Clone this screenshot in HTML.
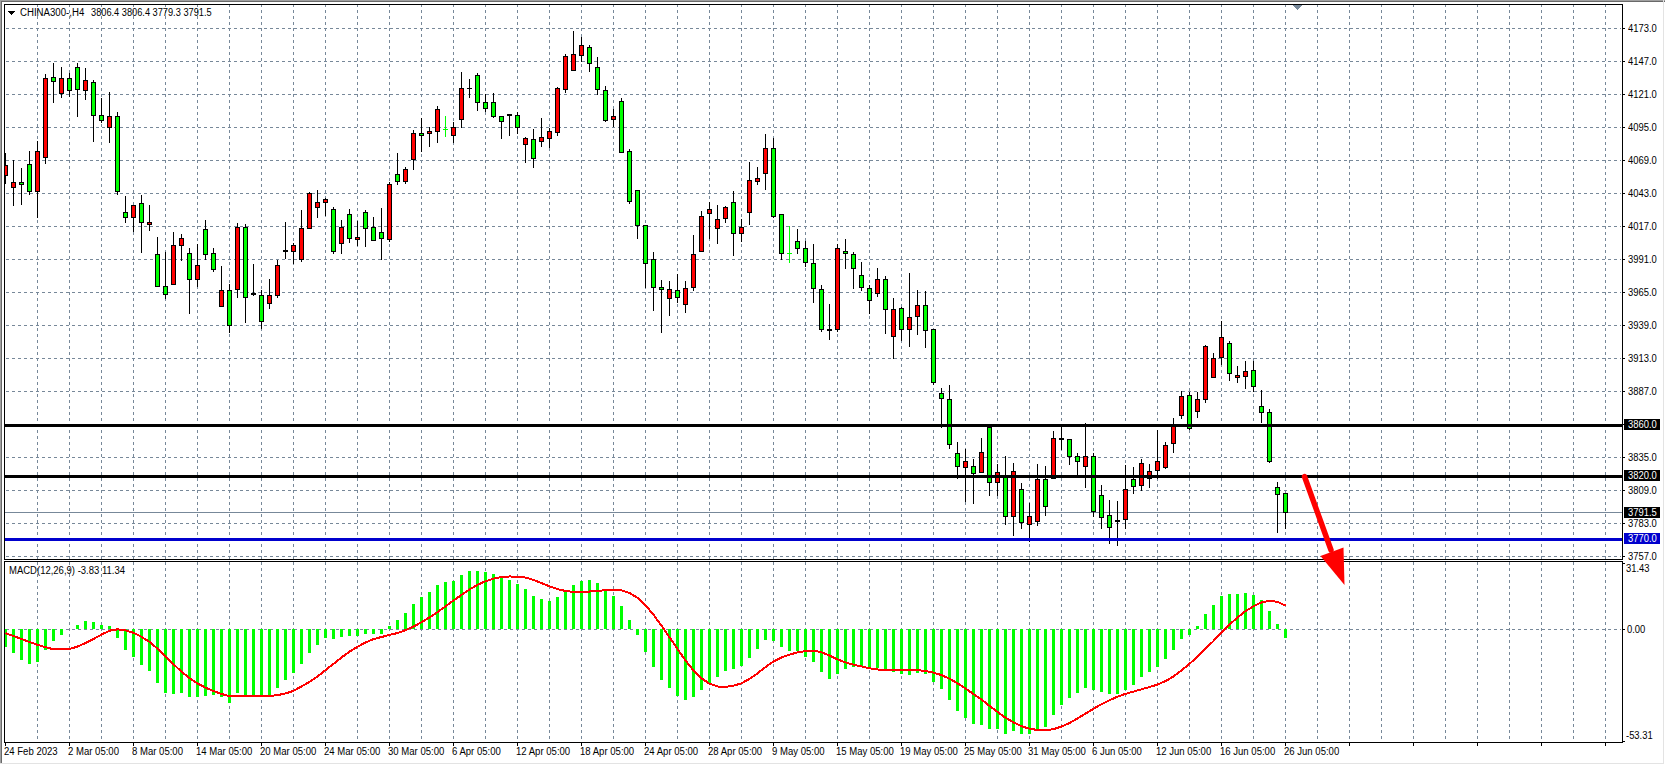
<!DOCTYPE html>
<html><head><meta charset="utf-8"><style>
html,body{margin:0;padding:0;background:#fff;width:1665px;height:765px;overflow:hidden}
svg{position:absolute;left:0;top:0}
.t{position:absolute;transform-origin:0 0;font-family:"Liberation Sans",sans-serif;line-height:12px;white-space:pre}
</style></head><body>
<svg width="1665" height="765" viewBox="0 0 1665 765" shape-rendering="crispEdges">
<rect x="0" y="0" width="1665" height="1" fill="#a0a0a0"/>
<rect x="0" y="1" width="1665" height="1" fill="#696969"/>
<rect x="0" y="0" width="1" height="763" fill="#a0a0a0"/>
<rect x="1" y="1" width="1" height="762" fill="#696969"/>
<rect x="0" y="763" width="1664" height="1" fill="#e3e3e3"/>
<rect x="1663" y="0" width="1" height="764" fill="#e3e3e3"/>
<path d="M37.5 4V559M69.5 4V559M101.5 4V559M133.5 4V559M165.5 4V559M197.5 4V559M229.5 4V559M261.5 4V559M293.5 4V559M325.5 4V559M357.5 4V559M389.5 4V559M421.5 4V559M453.5 4V559M485.5 4V559M517.5 4V559M549.5 4V559M581.5 4V559M613.5 4V559M645.5 4V559M677.5 4V559M709.5 4V559M741.5 4V559M773.5 4V559M805.5 4V559M837.5 4V559M869.5 4V559M901.5 4V559M933.5 4V559M965.5 4V559M997.5 4V559M1029.5 4V559M1061.5 4V559M1093.5 4V559M1125.5 4V559M1157.5 4V559M1189.5 4V559M1221.5 4V559M1253.5 4V559M1285.5 4V559M1317.5 4V559M1349.5 4V559M1381.5 4V559M1413.5 4V559M1445.5 4V559M1477.5 4V559M1509.5 4V559M1541.5 4V559M1573.5 4V559M1605.5 4V559" stroke="#778899" stroke-width="1" stroke-dasharray="3 3" fill="none"/>
<path d="M6 28.5H1621M6 61.5H1621M6 94.5H1621M6 127.5H1621M6 160.5H1621M6 193.5H1621M6 226.5H1621M6 259.5H1621M6 292.5H1621M6 325.5H1621M6 358.5H1621M6 391.5H1621M6 424.5H1621M6 457.5H1621M6 490.5H1621M6 523.5H1621M6 556.5H1621" stroke="#778899" stroke-width="1" stroke-dasharray="3 3" fill="none"/>
<path d="M37.5 562V742M69.5 562V742M101.5 562V742M133.5 562V742M165.5 562V742M197.5 562V742M229.5 562V742M261.5 562V742M293.5 562V742M325.5 562V742M357.5 562V742M389.5 562V742M421.5 562V742M453.5 562V742M485.5 562V742M517.5 562V742M549.5 562V742M581.5 562V742M613.5 562V742M645.5 562V742M677.5 562V742M709.5 562V742M741.5 562V742M773.5 562V742M805.5 562V742M837.5 562V742M869.5 562V742M901.5 562V742M933.5 562V742M965.5 562V742M997.5 562V742M1029.5 562V742M1061.5 562V742M1093.5 562V742M1125.5 562V742M1157.5 562V742M1189.5 562V742M1221.5 562V742M1253.5 562V742M1285.5 562V742M1317.5 562V742M1349.5 562V742M1381.5 562V742M1413.5 562V742M1445.5 562V742M1477.5 562V742M1509.5 562V742M1541.5 562V742M1573.5 562V742M1605.5 562V742" stroke="#778899" stroke-width="1" stroke-dasharray="3 3" fill="none"/>
<path d="M6 629.5H1621" stroke="#778899" stroke-width="1" stroke-dasharray="3 3" fill="none"/>
<rect x="5" y="512" width="1617" height="1" fill="#778899"/>
<clipPath id="cp"><rect x="5" y="5" width="1617" height="554"/></clipPath><g clip-path="url(#cp)">
<path d="M5 153h1v31h-1zM3 165h5v11h-5zM13 160h1v46h-1zM11 182h5v6h-5zM21 168h1v37h-1zM19 182h5v3h-5zM29 151h1v44h-1zM27 164h5v28h-5zM37 141h1v77h-1zM35 151h5v41h-5zM45 74h1v90h-1zM43 78h5v80h-5zM53 63h1v40h-1zM51 77h5v5h-5zM61 67h1v31h-1zM59 78h5v16h-5zM69 73h1v24h-1zM67 78h5v13h-5zM77 63h1v54h-1zM75 67h5v23h-5zM85 68h1v32h-1zM83 80h5v11h-5zM93 80h1v62h-1zM91 82h5v34h-5zM101 98h1v25h-1zM99 115h5v6h-5zM109 92h1v51h-1zM107 116h5v12h-5zM117 112h1v83h-1zM115 116h5v76h-5zM125 196h1v27h-1zM123 212h5v6h-5zM133 205h1v27h-1zM131 205h5v13h-5zM141 195h1v58h-1zM139 203h5v20h-5zM149 205h1v26h-1zM147 222h5v3h-5zM157 237h1v50h-1zM155 254h5v33h-5zM165 252h1v47h-1zM163 286h5v9h-5zM173 232h1v53h-1zM171 245h5v40h-5zM181 234h1v27h-1zM179 238h5v8h-5zM189 248h1v66h-1zM187 253h5v27h-5zM197 244h1v43h-1zM195 265h5v15h-5zM205 220h1v40h-1zM203 229h5v26h-5zM213 248h1v24h-1zM211 253h5v17h-5zM221 266h1v41h-1zM219 290h5v17h-5zM229 284h1v49h-1zM227 290h5v36h-5zM237 223h1v75h-1zM235 227h5v63h-5zM245 224h1v99h-1zM243 227h5v71h-5zM253 264h1v32h-1zM251 293h5v2h-5zM261 290h1v39h-1zM259 295h5v27h-5zM269 279h1v30h-1zM267 295h5v9h-5zM277 260h1v38h-1zM275 265h5v31h-5zM285 222h1v37h-1zM283 250h5v2h-5zM293 243h1v21h-1zM291 245h5v7h-5zM301 210h1v52h-1zM299 228h5v32h-5zM309 192h1v37h-1zM307 193h5v36h-5zM317 190h1v28h-1zM315 202h5v6h-5zM325 198h1v18h-1zM323 199h5v4h-5zM333 207h1v47h-1zM331 209h5v43h-5zM341 220h1v34h-1zM339 227h5v17h-5zM349 209h1v34h-1zM347 214h5v25h-5zM357 221h1v25h-1zM355 237h5v3h-5zM365 210h1v37h-1zM363 212h5v17h-5zM373 217h1v24h-1zM371 227h5v14h-5zM381 208h1v52h-1zM379 232h5v7h-5zM389 182h1v60h-1zM387 184h5v56h-5zM397 153h1v32h-1zM395 174h5v8h-5zM405 167h1v17h-1zM403 169h5v13h-5zM413 130h1v40h-1zM411 133h5v27h-5zM421 118h1v34h-1zM419 133h5v3h-5zM429 127h1v20h-1zM427 131h5v3h-5zM437 106h1v37h-1zM435 109h5v23h-5zM453 122h1v21h-1zM451 127h5v9h-5zM461 72h1v56h-1zM459 88h5v32h-5zM469 79h1v19h-1zM467 88h5v1h-5zM477 73h1v38h-1zM475 75h5v28h-5zM485 94h1v18h-1zM483 102h5v7h-5zM493 93h1v25h-1zM491 102h5v15h-5zM501 116h1v23h-1zM499 116h5v6h-5zM509 114h1v22h-1zM507 114h5v2h-5zM517 112h1v22h-1zM515 115h5v13h-5zM525 137h1v26h-1zM523 138h5v7h-5zM533 129h1v39h-1zM531 139h5v20h-5zM541 118h1v29h-1zM539 137h5v5h-5zM549 128h1v20h-1zM547 131h5v8h-5zM557 87h1v49h-1zM555 88h5v45h-5zM565 54h1v39h-1zM563 56h5v34h-5zM573 31h1v40h-1zM571 54h5v17h-5zM581 37h1v25h-1zM579 45h5v11h-5zM589 45h1v27h-1zM587 47h5v17h-5zM597 57h1v38h-1zM595 67h5v23h-5zM605 86h1v36h-1zM603 90h5v31h-5zM613 109h1v18h-1zM611 116h5v4h-5zM621 98h1v55h-1zM619 101h5v52h-5zM629 149h1v55h-1zM627 151h5v51h-5zM637 190h1v49h-1zM635 190h5v36h-5zM645 225h1v63h-1zM643 225h5v39h-5zM653 252h1v59h-1zM651 259h5v29h-5zM661 280h1v53h-1zM659 287h5v3h-5zM669 281h1v35h-1zM667 289h5v10h-5zM677 274h1v29h-1zM675 290h5v8h-5zM685 281h1v32h-1zM683 288h5v17h-5zM693 235h1v56h-1zM691 254h5v34h-5zM701 211h1v41h-1zM699 216h5v36h-5zM709 202h1v37h-1zM707 209h5v5h-5zM717 205h1v39h-1zM715 219h5v10h-5zM725 206h1v17h-1zM723 207h5v12h-5zM733 191h1v65h-1zM731 202h5v32h-5zM741 219h1v23h-1zM739 227h5v7h-5zM749 162h1v63h-1zM747 180h5v33h-5zM757 167h1v18h-1zM755 178h5v4h-5zM765 134h1v56h-1zM763 148h5v26h-5zM773 138h1v80h-1zM771 148h5v69h-5zM781 214h1v46h-1zM779 214h5v40h-5zM797 229h1v25h-1zM795 241h5v8h-5zM805 241h1v26h-1zM803 248h5v15h-5zM813 244h1v59h-1zM811 263h5v26h-5zM821 285h1v47h-1zM819 289h5v41h-5zM829 304h1v36h-1zM827 329h5v2h-5zM837 244h1v88h-1zM835 248h5v82h-5zM845 239h1v30h-1zM843 251h5v3h-5zM853 252h1v37h-1zM851 254h5v15h-5zM861 262h1v29h-1zM859 275h5v13h-5zM869 285h1v29h-1zM867 288h5v13h-5zM877 268h1v29h-1zM875 279h5v15h-5zM885 276h1v58h-1zM883 279h5v31h-5zM893 298h1v61h-1zM891 309h5v28h-5zM901 307h1v34h-1zM899 308h5v22h-5zM909 273h1v74h-1zM907 317h5v13h-5zM917 290h1v45h-1zM915 305h5v12h-5zM925 291h1v57h-1zM923 305h5v26h-5zM933 329h1v56h-1zM931 329h5v54h-5zM941 388h1v40h-1zM939 393h5v6h-5zM949 385h1v64h-1zM947 399h5v46h-5zM957 442h1v37h-1zM955 453h5v14h-5zM965 449h1v53h-1zM963 461h5v7h-5zM973 459h1v45h-1zM971 466h5v8h-5zM981 438h1v35h-1zM979 452h5v21h-5zM989 426h1v70h-1zM987 427h5v56h-5zM997 464h1v32h-1zM995 472h5v11h-5zM1005 456h1v69h-1zM1003 477h5v40h-5zM1013 463h1v73h-1zM1011 471h5v46h-5zM1021 483h1v46h-1zM1019 489h5v34h-5zM1029 503h1v39h-1zM1027 516h5v9h-5zM1037 464h1v62h-1zM1035 479h5v43h-5zM1045 466h1v50h-1zM1043 479h5v28h-5zM1053 431h1v48h-1zM1051 438h5v41h-5zM1061 427h1v23h-1zM1059 438h5v2h-5zM1069 439h1v26h-1zM1067 439h5v18h-5zM1077 453h1v23h-1zM1075 456h5v6h-5zM1085 423h1v65h-1zM1083 456h5v11h-5zM1093 453h1v64h-1zM1091 456h5v56h-5zM1101 485h1v44h-1zM1099 495h5v23h-5zM1109 500h1v44h-1zM1107 515h5v13h-5zM1117 501h1v45h-1zM1115 520h5v2h-5zM1125 465h1v64h-1zM1123 489h5v31h-5zM1133 467h1v27h-1zM1131 479h5v8h-5zM1141 459h1v32h-1zM1139 463h5v23h-5zM1149 464h1v24h-1zM1147 471h5v8h-5zM1157 430h1v49h-1zM1155 461h5v10h-5zM1165 442h1v27h-1zM1163 445h5v23h-5zM1173 418h1v35h-1zM1171 426h5v18h-5zM1181 391h1v28h-1zM1179 396h5v20h-5zM1189 392h1v38h-1zM1187 395h5v34h-5zM1197 392h1v26h-1zM1195 399h5v13h-5zM1205 345h1v58h-1zM1203 346h5v54h-5zM1213 353h1v25h-1zM1211 358h5v20h-5zM1221 321h1v44h-1zM1219 337h5v21h-5zM1229 341h1v40h-1zM1227 343h5v31h-5zM1237 366h1v17h-1zM1235 375h5v3h-5zM1245 361h1v28h-1zM1243 371h5v6h-5zM1253 361h1v31h-1zM1251 370h5v17h-5zM1261 390h1v33h-1zM1259 406h5v7h-5zM1269 409h1v54h-1zM1267 412h5v50h-5zM1277 482h1v51h-1zM1275 487h5v8h-5zM1285 493h1v36h-1zM1283 493h5v20h-5z" fill="#000"/>
<path d="M4 166h3v9h-3zM12 183h3v4h-3zM36 152h3v39h-3zM44 79h3v78h-3zM60 79h3v14h-3zM84 81h3v9h-3zM108 117h3v10h-3zM132 206h3v11h-3zM148 223h3v1h-3zM172 246h3v38h-3zM180 239h3v6h-3zM196 266h3v13h-3zM220 291h3v15h-3zM236 228h3v61h-3zM268 296h3v7h-3zM276 266h3v29h-3zM292 246h3v5h-3zM300 229h3v30h-3zM308 194h3v34h-3zM316 203h3v4h-3zM324 200h3v2h-3zM340 228h3v15h-3zM356 238h3v1h-3zM388 185h3v54h-3zM404 170h3v11h-3zM412 134h3v25h-3zM428 132h3v1h-3zM436 110h3v21h-3zM452 128h3v7h-3zM460 89h3v30h-3zM524 139h3v5h-3zM540 138h3v3h-3zM548 132h3v6h-3zM556 89h3v43h-3zM564 57h3v32h-3zM572 55h3v15h-3zM580 46h3v9h-3zM612 117h3v2h-3zM668 290h3v8h-3zM684 289h3v15h-3zM692 255h3v32h-3zM700 217h3v34h-3zM708 210h3v3h-3zM716 220h3v8h-3zM724 208h3v10h-3zM740 228h3v5h-3zM748 181h3v31h-3zM756 179h3v2h-3zM764 149h3v24h-3zM836 249h3v80h-3zM876 280h3v13h-3zM892 310h3v26h-3zM908 318h3v11h-3zM916 306h3v10h-3zM964 462h3v5h-3zM980 453h3v19h-3zM996 473h3v9h-3zM1012 472h3v44h-3zM1028 517h3v7h-3zM1036 480h3v41h-3zM1052 439h3v39h-3zM1084 457h3v9h-3zM1124 490h3v29h-3zM1140 464h3v21h-3zM1148 472h3v6h-3zM1156 462h3v8h-3zM1164 446h3v21h-3zM1172 427h3v16h-3zM1180 397h3v18h-3zM1196 400h3v11h-3zM1204 347h3v52h-3zM1212 359h3v18h-3zM1220 338h3v19h-3zM1236 376h3v1h-3zM1244 372h3v4h-3z" fill="#ff0000"/>
<path d="M20 183h3v1h-3zM28 165h3v26h-3zM52 78h3v3h-3zM68 79h3v11h-3zM76 68h3v21h-3zM92 83h3v32h-3zM100 116h3v4h-3zM116 117h3v74h-3zM124 213h3v4h-3zM140 204h3v18h-3zM156 255h3v31h-3zM164 287h3v7h-3zM188 254h3v25h-3zM204 230h3v24h-3zM212 254h3v15h-3zM228 291h3v34h-3zM244 228h3v69h-3zM260 296h3v25h-3zM332 210h3v41h-3zM348 215h3v23h-3zM364 213h3v15h-3zM372 228h3v12h-3zM380 233h3v5h-3zM396 175h3v6h-3zM420 134h3v1h-3zM445 116h1v21h-1zM443 129h5v1h-5zM476 76h3v26h-3zM484 103h3v5h-3zM492 103h3v13h-3zM500 117h3v4h-3zM516 116h3v11h-3zM532 140h3v18h-3zM588 48h3v15h-3zM596 68h3v21h-3zM604 91h3v29h-3zM620 102h3v50h-3zM628 152h3v49h-3zM636 191h3v34h-3zM644 226h3v37h-3zM652 260h3v27h-3zM660 288h3v1h-3zM676 291h3v6h-3zM732 203h3v30h-3zM772 149h3v67h-3zM780 215h3v38h-3zM789 226h1v37h-1zM787 253h5v1h-5zM796 242h3v6h-3zM804 249h3v13h-3zM812 264h3v24h-3zM820 290h3v39h-3zM844 252h3v1h-3zM852 255h3v13h-3zM860 276h3v11h-3zM868 289h3v11h-3zM884 280h3v29h-3zM900 309h3v20h-3zM924 306h3v24h-3zM932 330h3v52h-3zM940 394h3v4h-3zM948 400h3v44h-3zM956 454h3v12h-3zM972 467h3v6h-3zM988 428h3v54h-3zM1004 478h3v38h-3zM1020 490h3v32h-3zM1044 480h3v26h-3zM1068 440h3v16h-3zM1076 457h3v4h-3zM1092 457h3v54h-3zM1100 496h3v21h-3zM1108 516h3v11h-3zM1132 480h3v6h-3zM1188 396h3v32h-3zM1228 344h3v29h-3zM1252 371h3v15h-3zM1260 407h3v5h-3zM1268 413h3v48h-3zM1276 488h3v6h-3zM1284 494h3v18h-3z" fill="#00ff00"/>
</g>
<rect x="5" y="424" width="1617" height="3" fill="#000"/>
<rect x="5" y="475" width="1617" height="3" fill="#000"/>
<rect x="5" y="538" width="1617" height="3" fill="#0000cd"/>
<polygon points="1292.5,5 1302.5,5 1297.5,10" fill="#778899"/>
<path d="M4 629h3v18h-3zM12 629h3v24h-3zM20 629h3v31h-3zM28 629h3v35h-3zM36 629h3v33h-3zM44 629h3v21h-3zM52 629h3v12h-3zM60 629h3v6h-3zM76 625h3v4h-3zM84 621h3v8h-3zM92 622h3v7h-3zM100 625h3v4h-3zM108 626h3v3h-3zM116 629h3v9h-3zM124 629h3v21h-3zM132 629h3v28h-3zM140 629h3v36h-3zM148 629h3v42h-3zM156 629h3v54h-3zM164 629h3v64h-3zM172 629h3v65h-3zM180 629h3v64h-3zM188 629h3v68h-3zM196 629h3v68h-3zM204 629h3v67h-3zM212 629h3v66h-3zM220 629h3v68h-3zM228 629h3v74h-3zM236 629h3v64h-3zM244 629h3v66h-3zM252 629h3v66h-3zM260 629h3v66h-3zM268 629h3v66h-3zM276 629h3v59h-3zM284 629h3v51h-3zM292 629h3v44h-3zM300 629h3v35h-3zM308 629h3v24h-3zM316 629h3v16h-3zM324 629h3v9h-3zM332 629h3v10h-3zM340 629h3v8h-3zM348 629h3v7h-3zM356 629h3v7h-3zM364 629h3v5h-3zM372 629h3v5h-3zM380 629h3v5h-3zM388 626h3v3h-3zM396 620h3v9h-3zM404 613h3v16h-3zM412 604h3v25h-3zM420 597h3v32h-3zM428 592h3v37h-3zM436 585h3v44h-3zM444 582h3v47h-3zM452 581h3v48h-3zM460 575h3v54h-3zM468 571h3v58h-3zM476 571h3v58h-3zM484 572h3v57h-3zM492 574h3v55h-3zM500 577h3v52h-3zM508 580h3v49h-3zM516 584h3v45h-3zM524 589h3v40h-3zM532 596h3v33h-3zM540 599h3v30h-3zM548 601h3v28h-3zM556 597h3v32h-3zM564 591h3v38h-3zM572 585h3v44h-3zM580 581h3v48h-3zM588 580h3v49h-3zM596 583h3v46h-3zM604 590h3v39h-3zM612 596h3v33h-3zM620 606h3v23h-3zM628 620h3v9h-3zM636 629h3v6h-3zM644 629h3v23h-3zM652 629h3v38h-3zM660 629h3v51h-3zM668 629h3v59h-3zM676 629h3v67h-3zM684 629h3v71h-3zM692 629h3v68h-3zM700 629h3v61h-3zM708 629h3v55h-3zM716 629h3v48h-3zM724 629h3v42h-3zM732 629h3v40h-3zM740 629h3v37h-3zM748 629h3v29h-3zM756 629h3v20h-3zM764 629h3v11h-3zM772 629h3v12h-3zM780 629h3v18h-3zM788 629h3v22h-3zM796 629h3v22h-3zM804 629h3v28h-3zM812 629h3v33h-3zM820 629h3v43h-3zM828 629h3v50h-3zM836 629h3v45h-3zM844 629h3v40h-3zM852 629h3v38h-3zM860 629h3v38h-3zM868 629h3v39h-3zM876 629h3v39h-3zM884 629h3v40h-3zM892 629h3v43h-3zM900 629h3v45h-3zM908 629h3v46h-3zM916 629h3v44h-3zM924 629h3v45h-3zM932 629h3v53h-3zM940 629h3v60h-3zM948 629h3v71h-3zM956 629h3v82h-3zM964 629h3v89h-3zM972 629h3v95h-3zM980 629h3v96h-3zM988 629h3v100h-3zM996 629h3v100h-3zM1004 629h3v105h-3zM1012 629h3v102h-3zM1020 629h3v105h-3zM1028 629h3v105h-3zM1036 629h3v100h-3zM1044 629h3v98h-3zM1052 629h3v86h-3zM1060 629h3v76h-3zM1068 629h3v69h-3zM1076 629h3v64h-3zM1084 629h3v59h-3zM1092 629h3v61h-3zM1100 629h3v63h-3zM1108 629h3v65h-3zM1116 629h3v65h-3zM1124 629h3v61h-3zM1132 629h3v56h-3zM1140 629h3v48h-3zM1148 629h3v43h-3zM1156 629h3v38h-3zM1164 629h3v30h-3zM1172 629h3v21h-3zM1180 629h3v10h-3zM1188 629h3v6h-3zM1196 626h3v3h-3zM1204 614h3v15h-3zM1212 605h3v24h-3zM1220 596h3v33h-3zM1228 594h3v35h-3zM1236 594h3v35h-3zM1244 593h3v36h-3zM1252 595h3v34h-3zM1260 600h3v29h-3zM1268 611h3v18h-3zM1276 624h3v5h-3zM1284 629h3v9h-3z" fill="#00ff00"/>
<polyline points="5.5,633.10 13.5,636.05 21.5,639.00 29.5,641.95 37.5,644.90 45.5,647.10 53.5,649.30 61.5,649.30 69.5,648.96 77.5,646.60 85.5,643.08 93.5,638.93 101.5,634.62 109.5,630.67 117.5,629.36 125.5,630.33 133.5,632.86 141.5,636.81 149.5,641.84 157.5,648.70 165.5,656.60 173.5,664.24 181.5,671.63 189.5,678.18 197.5,683.41 205.5,687.69 213.5,691.06 221.5,693.93 229.5,696.13 237.5,696.13 245.5,696.23 253.5,696.46 261.5,696.22 269.5,695.99 277.5,695.13 285.5,693.47 293.5,690.79 301.5,686.47 309.5,681.97 317.5,676.41 325.5,670.10 333.5,663.89 341.5,657.46 349.5,651.68 357.5,646.77 365.5,642.44 373.5,639.11 381.5,637.01 389.5,634.96 397.5,633.00 405.5,630.17 413.5,626.57 421.5,622.29 429.5,617.46 437.5,612.09 445.5,606.37 453.5,600.53 461.5,594.89 469.5,589.46 477.5,584.80 485.5,581.24 493.5,578.67 501.5,577.02 509.5,576.47 517.5,576.69 525.5,577.58 533.5,579.91 541.5,583.02 549.5,586.33 557.5,589.11 565.5,590.99 573.5,591.88 581.5,591.93 589.5,591.51 597.5,590.87 605.5,590.22 613.5,589.86 621.5,590.41 629.5,592.96 637.5,597.80 645.5,605.18 653.5,614.71 661.5,625.72 669.5,637.30 677.5,649.01 685.5,660.51 693.5,670.60 701.5,678.31 709.5,683.72 717.5,686.49 725.5,686.90 733.5,685.70 741.5,683.26 749.5,678.97 757.5,673.36 765.5,667.00 773.5,661.59 781.5,657.50 789.5,654.59 797.5,652.43 805.5,651.10 813.5,650.67 821.5,652.27 829.5,655.58 837.5,659.36 845.5,662.44 853.5,664.69 861.5,666.43 869.5,668.26 877.5,669.44 885.5,670.22 893.5,670.17 901.5,669.60 909.5,669.74 917.5,670.17 925.5,670.94 933.5,672.68 941.5,675.07 949.5,678.66 957.5,683.33 965.5,688.52 973.5,694.08 981.5,699.60 989.5,705.84 997.5,711.96 1005.5,717.73 1013.5,722.41 1021.5,726.20 1029.5,728.76 1037.5,729.96 1045.5,730.29 1053.5,729.17 1061.5,726.51 1069.5,723.07 1077.5,718.49 1085.5,713.67 1093.5,708.81 1101.5,704.16 1109.5,700.29 1117.5,696.59 1125.5,693.87 1133.5,691.62 1141.5,689.29 1149.5,686.97 1157.5,684.59 1165.5,681.11 1173.5,676.44 1181.5,670.32 1189.5,663.82 1197.5,656.73 1205.5,648.90 1213.5,640.96 1221.5,632.57 1229.5,624.59 1237.5,617.43 1245.5,611.13 1253.5,606.29 1261.5,602.44 1269.5,600.77 1277.5,601.90 1285.5,605.54" fill="none" stroke="#ff0000" stroke-width="2" stroke-linejoin="round"/>
<rect x="4" y="4" width="1" height="556" fill="#000"/>
<rect x="4" y="4" width="1619" height="1" fill="#000"/>
<rect x="4" y="559" width="1619" height="1" fill="#000"/>
<rect x="1622" y="4" width="1" height="556" fill="#000"/>
<rect x="4" y="561" width="1" height="182" fill="#000"/>
<rect x="4" y="561" width="1619" height="1" fill="#000"/>
<rect x="4" y="742" width="1619" height="1" fill="#000"/>
<rect x="1622" y="561" width="1" height="182" fill="#000"/>
<g shape-rendering="geometricPrecision"><line x1="1304.5" y1="476.5" x2="1331" y2="550" stroke="#ff0000" stroke-width="5.5" stroke-linecap="round"/>
<polygon points="1320.5,556 1343.5,547.5 1344.5,585" fill="#ff0000"/></g>
<path d="M1623 28h2v1h-2zM1623 61h2v1h-2zM1623 94h2v1h-2zM1623 127h2v1h-2zM1623 160h2v1h-2zM1623 193h2v1h-2zM1623 226h2v1h-2zM1623 259h2v1h-2zM1623 292h2v1h-2zM1623 325h2v1h-2zM1623 358h2v1h-2zM1623 391h2v1h-2zM1623 424h2v1h-2zM1623 457h2v1h-2zM1623 490h2v1h-2zM1623 523h2v1h-2zM1623 556h2v1h-2zM1623 563h2v1h-2zM1623 629h2v1h-2zM1623 741h2v1h-2zM5 743h1v3h-1zM69 743h1v3h-1zM133 743h1v3h-1zM197 743h1v3h-1zM261 743h1v3h-1zM325 743h1v3h-1zM389 743h1v3h-1zM453 743h1v3h-1zM517 743h1v3h-1zM581 743h1v3h-1zM645 743h1v3h-1zM709 743h1v3h-1zM773 743h1v3h-1zM837 743h1v3h-1zM901 743h1v3h-1zM965 743h1v3h-1zM1029 743h1v3h-1zM1093 743h1v3h-1zM1157 743h1v3h-1zM1221 743h1v3h-1zM1285 743h1v3h-1zM1349 743h1v3h-1zM1413 743h1v3h-1zM1477 743h1v3h-1zM1541 743h1v3h-1zM1605 743h1v3h-1z" fill="#000"/>
<rect x="1624" y="507" width="36" height="11" fill="#000"/>
<rect x="1624" y="533" width="36" height="11" fill="#0000cd"/>
<rect x="1624" y="419" width="36" height="11" fill="#000"/>
<rect x="1624" y="470" width="36" height="11" fill="#000"/>
<polygon points="8,11 15,11 11.5,15" fill="#000"/>
</svg>
<div class="t" style="left:1628px;top:23px;color:#000;font-size:10px;transform:scaleX(0.94)">4173.0</div><div class="t" style="left:1628px;top:56px;color:#000;font-size:10px;transform:scaleX(0.94)">4147.0</div><div class="t" style="left:1628px;top:89px;color:#000;font-size:10px;transform:scaleX(0.94)">4121.0</div><div class="t" style="left:1628px;top:122px;color:#000;font-size:10px;transform:scaleX(0.94)">4095.0</div><div class="t" style="left:1628px;top:155px;color:#000;font-size:10px;transform:scaleX(0.94)">4069.0</div><div class="t" style="left:1628px;top:188px;color:#000;font-size:10px;transform:scaleX(0.94)">4043.0</div><div class="t" style="left:1628px;top:221px;color:#000;font-size:10px;transform:scaleX(0.94)">4017.0</div><div class="t" style="left:1628px;top:254px;color:#000;font-size:10px;transform:scaleX(0.94)">3991.0</div><div class="t" style="left:1628px;top:287px;color:#000;font-size:10px;transform:scaleX(0.94)">3965.0</div><div class="t" style="left:1628px;top:320px;color:#000;font-size:10px;transform:scaleX(0.94)">3939.0</div><div class="t" style="left:1628px;top:353px;color:#000;font-size:10px;transform:scaleX(0.94)">3913.0</div><div class="t" style="left:1628px;top:386px;color:#000;font-size:10px;transform:scaleX(0.94)">3887.0</div><div class="t" style="left:1628px;top:452px;color:#000;font-size:10px;transform:scaleX(0.94)">3835.0</div><div class="t" style="left:1628px;top:485px;color:#000;font-size:10px;transform:scaleX(0.94)">3809.0</div><div class="t" style="left:1628px;top:518px;color:#000;font-size:10px;transform:scaleX(0.94)">3783.0</div><div class="t" style="left:1628px;top:551px;color:#000;font-size:10px;transform:scaleX(0.94)">3757.0</div><div class="t" style="left:1628px;top:419px;color:#fff;font-size:10px;transform:scaleX(0.94)">3860.0</div><div class="t" style="left:1628px;top:470px;color:#fff;font-size:10px;transform:scaleX(0.94)">3820.0</div><div class="t" style="left:1628px;top:507px;color:#fff;font-size:10px;transform:scaleX(0.94)">3791.5</div><div class="t" style="left:1628px;top:533px;color:#fff;font-size:10px;transform:scaleX(0.94)">3770.0</div><div class="t" style="left:1626px;top:563px;color:#000;font-size:10px;transform:scaleX(0.94)">31.43</div><div class="t" style="left:1627px;top:624px;color:#000;font-size:10px;transform:scaleX(0.94)">0.00</div><div class="t" style="left:1626px;top:730px;color:#000;font-size:10px;transform:scaleX(0.94)">-53.31</div><div class="t" style="left:4px;top:746px;color:#000;font-size:10px;transform:scaleX(0.955)">24 Feb 2023</div><div class="t" style="left:68px;top:746px;color:#000;font-size:10px;transform:scaleX(0.955)">2 Mar 05:00</div><div class="t" style="left:132px;top:746px;color:#000;font-size:10px;transform:scaleX(0.955)">8 Mar 05:00</div><div class="t" style="left:196px;top:746px;color:#000;font-size:10px;transform:scaleX(0.955)">14 Mar 05:00</div><div class="t" style="left:260px;top:746px;color:#000;font-size:10px;transform:scaleX(0.955)">20 Mar 05:00</div><div class="t" style="left:324px;top:746px;color:#000;font-size:10px;transform:scaleX(0.955)">24 Mar 05:00</div><div class="t" style="left:388px;top:746px;color:#000;font-size:10px;transform:scaleX(0.955)">30 Mar 05:00</div><div class="t" style="left:452px;top:746px;color:#000;font-size:10px;transform:scaleX(0.955)">6 Apr 05:00</div><div class="t" style="left:516px;top:746px;color:#000;font-size:10px;transform:scaleX(0.955)">12 Apr 05:00</div><div class="t" style="left:580px;top:746px;color:#000;font-size:10px;transform:scaleX(0.955)">18 Apr 05:00</div><div class="t" style="left:644px;top:746px;color:#000;font-size:10px;transform:scaleX(0.955)">24 Apr 05:00</div><div class="t" style="left:708px;top:746px;color:#000;font-size:10px;transform:scaleX(0.955)">28 Apr 05:00</div><div class="t" style="left:772px;top:746px;color:#000;font-size:10px;transform:scaleX(0.955)">9 May 05:00</div><div class="t" style="left:836px;top:746px;color:#000;font-size:10px;transform:scaleX(0.955)">15 May 05:00</div><div class="t" style="left:900px;top:746px;color:#000;font-size:10px;transform:scaleX(0.955)">19 May 05:00</div><div class="t" style="left:964px;top:746px;color:#000;font-size:10px;transform:scaleX(0.955)">25 May 05:00</div><div class="t" style="left:1028px;top:746px;color:#000;font-size:10px;transform:scaleX(0.955)">31 May 05:00</div><div class="t" style="left:1092px;top:746px;color:#000;font-size:10px;transform:scaleX(0.955)">6 Jun 05:00</div><div class="t" style="left:1156px;top:746px;color:#000;font-size:10px;transform:scaleX(0.955)">12 Jun 05:00</div><div class="t" style="left:1220px;top:746px;color:#000;font-size:10px;transform:scaleX(0.955)">16 Jun 05:00</div><div class="t" style="left:1284px;top:746px;color:#000;font-size:10px;transform:scaleX(0.955)">26 Jun 05:00</div><div class="t" style="left:20px;top:7px;color:#000;font-size:10px;transform:scaleX(0.964)">CHINA300-,H4</div><div class="t" style="left:91px;top:7px;color:#000;font-size:10px;transform:scaleX(0.923)">3806.4 3806.4 3779.3 3791.5</div><div class="t" style="left:9px;top:565px;color:#000;font-size:10px;transform:scaleX(0.95)">MACD(12,26,9) -3.83 11.34</div>
</body></html>
